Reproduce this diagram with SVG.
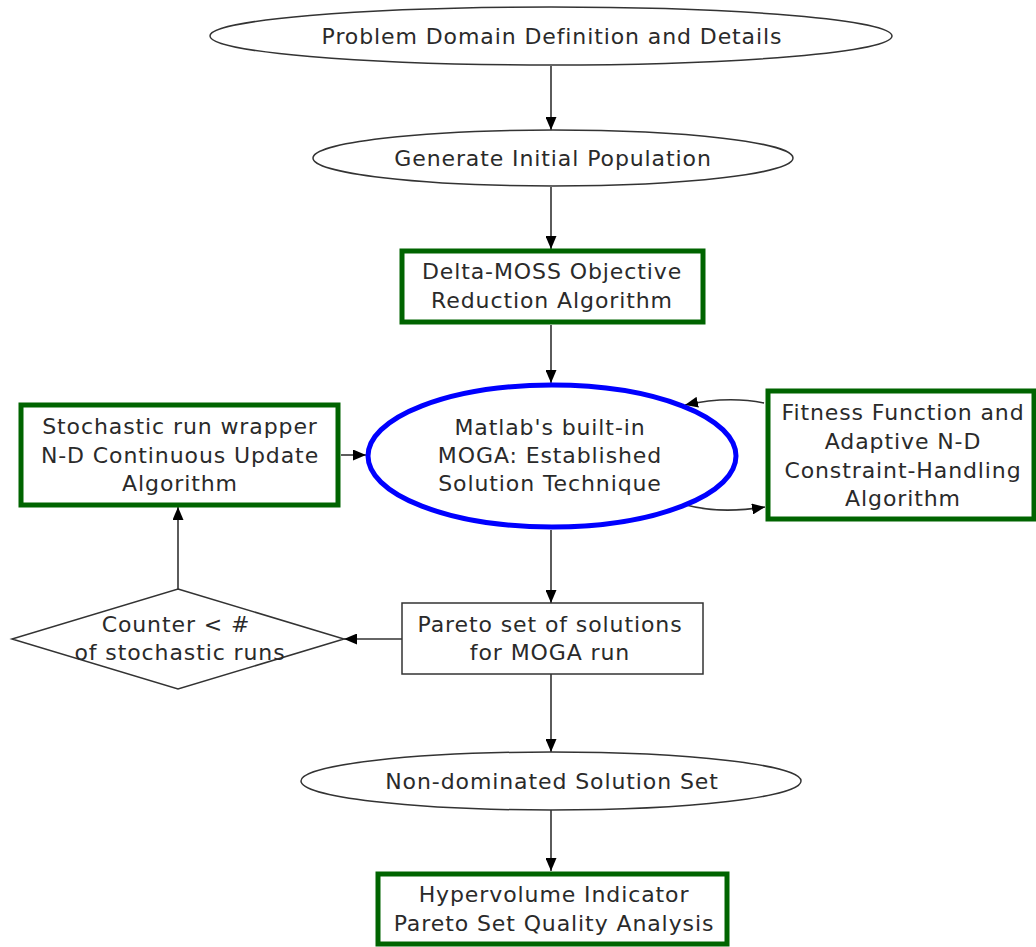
<svg xmlns="http://www.w3.org/2000/svg" width="1036" height="947" viewBox="0 0 1036 947">
  <style>
    .lbl { font-family: "DejaVu Sans", "Liberation Sans", sans-serif; font-size: 22px; letter-spacing: 0.9px; fill: #2a2a2a; text-anchor: middle; }
    .plain { fill: #fff; stroke: #333; stroke-width: 1.5; }
    .green { fill: #fff; stroke: #006400; stroke-width: 5; }
    .blue { fill: #fff; stroke: #0000ff; stroke-width: 5; }
    .edge { fill: none; stroke: #333; stroke-width: 1.6; }
  </style>
  <defs>
    <marker id="arrow" viewBox="0 0 13 11" refX="13" refY="5.5" markerWidth="13" markerHeight="11" markerUnits="userSpaceOnUse" orient="auto">
      <path d="M0,0 L13,5.5 L0,11 z" fill="#000"/>
    </marker>
  </defs>

  <rect width="1036" height="947" fill="#fff"/>

  <g id="edges">
    <path class="edge" d="M551,66 V130" marker-end="url(#arrow)"/>
    <path class="edge" d="M551,187 V249" marker-end="url(#arrow)"/>
    <path class="edge" d="M551,325 V383" marker-end="url(#arrow)"/>
    <path class="edge" d="M341,455 H366" marker-end="url(#arrow)"/>
    <path class="edge" d="M764,403 C740,398 712,399 685,405" marker-end="url(#arrow)"/>
    <path class="edge" d="M686,505 C712,512 740,511 765,507" marker-end="url(#arrow)"/>
    <path class="edge" d="M551,530 V603" marker-end="url(#arrow)"/>
    <path class="edge" d="M402,639 H344" marker-end="url(#arrow)"/>
    <path class="edge" d="M178,589 V507" marker-end="url(#arrow)"/>
    <path class="edge" d="M551,674 V752" marker-end="url(#arrow)"/>
    <path class="edge" d="M551,810 V871" marker-end="url(#arrow)"/>
  </g>

  <g id="problem-domain">
    <ellipse class="plain" cx="551" cy="36" rx="341" ry="29"/>
    <text class="lbl" x="552" y="44">Problem Domain Definition and Details</text>
  </g>

  <g id="initial-population">
    <ellipse class="plain" cx="553" cy="158" rx="240" ry="28"/>
    <text class="lbl" x="553" y="166">Generate Initial Population</text>
  </g>

  <g id="delta-moss">
    <rect class="green" x="402" y="251" width="301" height="71"/>
    <text class="lbl" x="552" y="279">Delta-MOSS Objective</text>
    <text class="lbl" x="552" y="308">Reduction Algorithm</text>
  </g>

  <g id="moga">
    <ellipse class="blue" cx="552" cy="456" rx="184" ry="71"/>
    <text class="lbl" x="550" y="435">Matlab's built-in</text>
    <text class="lbl" x="550" y="463">MOGA: Established</text>
    <text class="lbl" x="550" y="491">Solution Technique</text>
  </g>

  <g id="stochastic-wrapper">
    <rect class="green" x="21" y="405" width="317" height="100"/>
    <text class="lbl" x="180" y="434">Stochastic run wrapper</text>
    <text class="lbl" x="180" y="463">N-D Continuous Update</text>
    <text class="lbl" x="180" y="491">Algorithm</text>
  </g>

  <g id="fitness-function">
    <rect class="green" x="768" y="391" width="266" height="128"/>
    <text class="lbl" x="903" y="420">Fitness Function and</text>
    <text class="lbl" x="903" y="449">Adaptive N-D</text>
    <text class="lbl" x="903" y="478">Constraint-Handling</text>
    <text class="lbl" x="903" y="506">Algorithm</text>
  </g>

  <g id="pareto-set">
    <rect class="plain" x="402" y="603" width="301" height="71"/>
    <text class="lbl" x="550" y="632">Pareto set of solutions</text>
    <text class="lbl" x="550" y="660">for MOGA run</text>
  </g>

  <g id="counter-check">
    <polygon class="plain" points="178,589 344,639 178,689 12,639"/>
    <text class="lbl" x="176" y="632">Counter &lt; #</text>
    <text class="lbl" x="180" y="660">of stochastic runs</text>
  </g>

  <g id="non-dominated">
    <ellipse class="plain" cx="551" cy="781" rx="250" ry="29"/>
    <text class="lbl" x="552" y="789">Non-dominated Solution Set</text>
  </g>

  <g id="hypervolume">
    <rect class="green" x="378" y="874" width="349" height="70"/>
    <text class="lbl" x="554" y="902">Hypervolume Indicator</text>
    <text class="lbl" x="554" y="931">Pareto Set Quality Analysis</text>
  </g>
</svg>
